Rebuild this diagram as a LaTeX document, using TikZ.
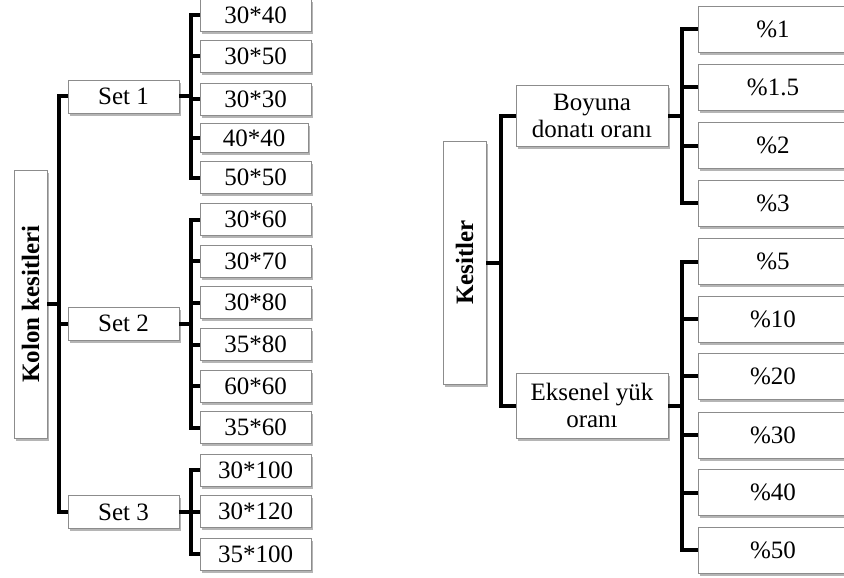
\documentclass[tikz,border=0pt]{standalone}
\usepackage{fontspec}
\setmainfont{Liberation Serif}
\usepackage{xcolor}
\definecolor{ksEdge}{RGB}{140,140,140}
\definecolor{ksShade}{RGB}{120,120,120}
\usepackage{tikz}
\usetikzlibrary{shadows}

\begin{document}
\begin{tikzpicture}[
    x=1pt, y=-1pt,
    ksbox/.style={draw=ksEdge, fill=white, line width=0.8pt, align=center,
      inner sep=1pt, font=\fontsize{25}{27}\selectfont,
      drop shadow={shadow xshift=1.6pt, shadow yshift=-2.6pt,
        fill=ksShade, opacity=0.55}},
    rootbox/.style={ksbox, font=\fontsize{25}{27}\selectfont\bfseries},
    setbox/.style={ksbox, minimum width=111pt, minimum height=33pt},
    sizebox/.style={ksbox, minimum width=111pt, minimum height=32pt},
    ratiobox/.style={ksbox, minimum width=152pt, minimum height=62pt},
    pctbox/.style={ksbox, minimum width=150pt, minimum height=46pt},
    link/.style={line width=4pt, draw=black}
  ]
    \useasboundingbox (0,0) rectangle (844,578);

    \node[rootbox, minimum width=33pt, minimum height=268pt] (kolon) at (30.5,304)
      {\rotatebox{90}{Kolon kesitleri}};
    \node[setbox] (set1) at (123.5,96.5) {Set 1};
    \node[setbox] (set2) at (123.5,323.5) {Set 2};
    \node[setbox] (set3) at (123.5,512) {Set 3};

    \node[sizebox] (s3040) at (255.5,15.5) {30*40};
    \node[sizebox] (s3050) at (255.5,56.5) {30*50};
    \node[sizebox] (s3030) at (255.5,99) {30*30};
    \node[sizebox, minimum width=108pt, minimum height=29pt] (s4040) at (254,138) {40*40};
    \node[sizebox] (s5050) at (255.5,177.5) {50*50};

    \node[sizebox] (s3060) at (255.5,219.5) {30*60};
    \node[sizebox] (s3070) at (255.5,261) {30*70};
    \node[sizebox] (s3080) at (255.5,302.5) {30*80};
    \node[sizebox] (s3580) at (255.5,344.5) {35*80};
    \node[sizebox] (s6060) at (255.5,386) {60*60};
    \node[sizebox] (s3560) at (255.5,427.5) {35*60};

    \node[sizebox] (s30100) at (255.5,470) {30*100};
    \node[sizebox] (s30120) at (255.5,511.5) {30*120};
    \node[sizebox] (s35100) at (255.5,554) {35*100};

    \node[rootbox, minimum width=43pt, minimum height=243pt] (kesit) at (464.5,262.5)
      {\rotatebox{90}{Kesitler}};
    \node[ratiobox, minimum height=61pt] (boyuna) at (592,116) {Boyuna\\donatı oranı};
    \node[ratiobox, minimum height=65pt] (eksenel) at (592,405.5) {Eksenel yük\\oranı};

    \node[pctbox] (p1) at (773,29) {\%1};
    \node[pctbox] (p15) at (773,87) {\%1.5};
    \node[pctbox] (p2) at (773,145.5) {\%2};
    \node[pctbox] (p3) at (773,203) {\%3};

    \node[pctbox] (p5) at (773,261.5) {\%5};
    \node[pctbox] (p10) at (773,319) {\%10};
    \node[pctbox] (p20) at (773,376) {\%20};
    \node[pctbox] (p30) at (773,435) {\%30};
    \node[pctbox] (p40) at (773,492.5) {\%40};
    \node[pctbox] (p50) at (773,550) {\%50};

    \draw[link] (kolon.east) -- ++(12,0) |- (set1.west);
    \draw[link] (kolon.east) -- ++(12,0) |- (set2.west);
    \draw[link] (kolon.east) -- ++(12,0) |- (set3.west);

    \draw[link] (set1.east) -- ++(12,0) |- (s3040.west);
    \draw[link] (set1.east) -- ++(12,0) |- (s3050.west);
    \draw[link] (set1.east) -- ++(12,0) |- (s3030.west);
    \draw[link] (set1.east) -- ++(12,0) |- (s4040.west);
    \draw[link] (set1.east) -- ++(12,0) |- (s5050.west);

    \draw[link] (set2.east) -- ++(12,0) |- (s3060.west);
    \draw[link] (set2.east) -- ++(12,0) |- (s3070.west);
    \draw[link] (set2.east) -- ++(12,0) |- (s3080.west);
    \draw[link] (set2.east) -- ++(12,0) |- (s3580.west);
    \draw[link] (set2.east) -- ++(12,0) |- (s6060.west);
    \draw[link] (set2.east) -- ++(12,0) |- (s3560.west);

    \draw[link] (set3.east) -- ++(12,0) |- (s30100.west);
    \draw[link] (set3.east) -- ++(12,0) |- (s30120.west);
    \draw[link] (set3.east) -- ++(12,0) |- (s35100.west);

    \draw[link] (kesit.east) -- ++(15,0) |- (boyuna.west);
    \draw[link] (kesit.east) -- ++(15,0) |- (eksenel.west);

    \draw[link] (boyuna.east) -- ++(14,0) |- (p1.west);
    \draw[link] (boyuna.east) -- ++(14,0) |- (p15.west);
    \draw[link] (boyuna.east) -- ++(14,0) |- (p2.west);
    \draw[link] (boyuna.east) -- ++(14,0) |- (p3.west);

    \draw[link] (eksenel.east) -- ++(14,0) |- (p5.west);
    \draw[link] (eksenel.east) -- ++(14,0) |- (p10.west);
    \draw[link] (eksenel.east) -- ++(14,0) |- (p20.west);
    \draw[link] (eksenel.east) -- ++(14,0) |- (p30.west);
    \draw[link] (eksenel.east) -- ++(14,0) |- (p40.west);
    \draw[link] (eksenel.east) -- ++(14,0) |- (p50.west);
  \end{tikzpicture}
\end{document}
